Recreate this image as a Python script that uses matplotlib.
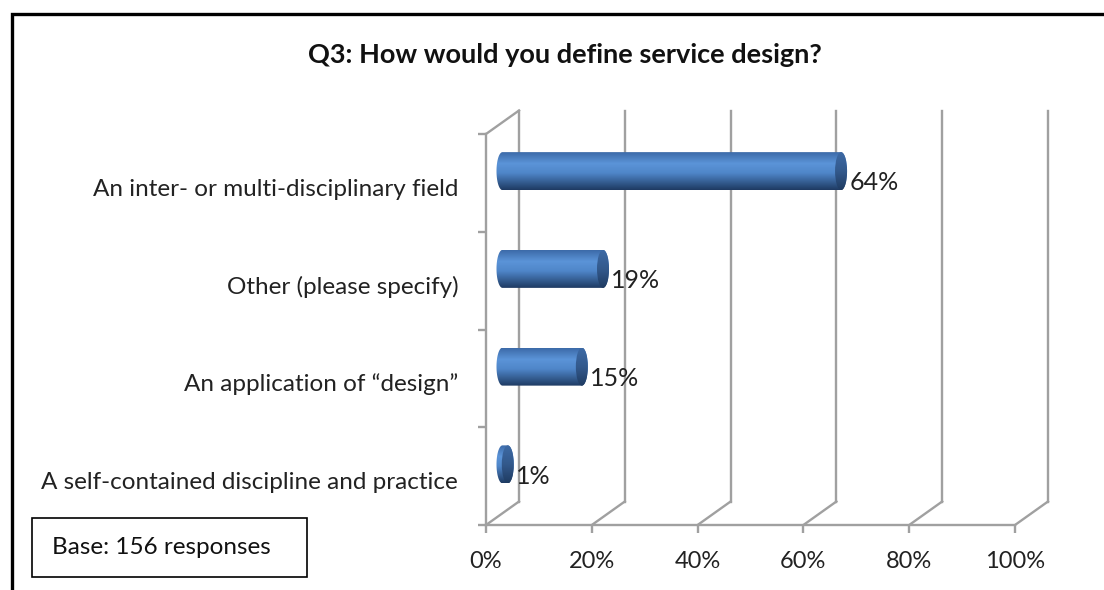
import matplotlib
matplotlib.use("Agg")
import matplotlib.pyplot as plt
import matplotlib.transforms as mtransforms
import numpy as np
from matplotlib.patches import Rectangle, Ellipse, PathPatch
from matplotlib.path import Path
from matplotlib.colors import LinearSegmentedColormap

plt.rcParams['font.family'] = ['Lato', 'DejaVu Sans']

# survey results
categories = ["An inter- or multi-disciplinary field",
              "Other (please specify)",
              "An application of \u201cdesign\u201d",
              "A self-contained discipline and practice"]
values = [64, 19, 15, 1]
xticks = [0, 20, 40, 60, 80, 100]
title = "Q3: How would you define service design?"
base_note = "Base: 156 responses"

W, H = 1104, 590
fig = plt.figure(figsize=(W / 100, H / 100), dpi=100)

# background layer in pixel units for the frame, title and note box
bg = fig.add_axes([0, 0, 1, 1])
bg.set_xlim(0, W)
bg.set_ylim(H, 0)
bg.axis('off')
bg.plot([12, 12, W], [H, 14, 14], color='black', lw=2.4, solid_joinstyle='miter')
bg.add_patch(Rectangle((32, 518), 275, 59, fill=False, ec='black', lw=1.2))
bg.text(52, 548, base_note, fontsize=17.5, va='center', ha='left', color='#111111')
bg.text(565, 55, title, fontsize=19.5, fontweight='bold', ha='center', va='center', color='#111111')

# chart front plane
x0, x1, ybot, ytop = 486, 1015, 525, 134
ax = fig.add_axes([x0 / W, (H - ybot) / H, (x1 - x0) / W, (ybot - ytop) / H])
n = len(categories)
ax.set_xlim(0, 100)
ax.set_ylim(0, n)
ax.patch.set_alpha(0)

px_x = (x1 - x0) / 100.0
px_y = (ybot - ytop) / n
DX = 33 / px_x      # depth offset in data units
DY = 23.5 / px_y

grid_c = '#a0a0a0'
for spine in ['top', 'right']:
    ax.spines[spine].set_visible(False)
for spine in ['bottom', 'left']:
    ax.spines[spine].set_color(grid_c)
    ax.spines[spine].set_linewidth(1.7)

ax.set_xticks(xticks)
ax.set_xticklabels([f"{t}%" for t in xticks], fontsize=17, color='#222222')
ax.set_yticks(range(n + 1))
ax.set_yticklabels([])
ax.tick_params(axis='both', which='major', color=grid_c, width=1.7, length=6, direction='out')
ax.tick_params(axis='x', pad=13)
centers = [n - i - 0.5 for i in range(n)]
ax.set_yticks(centers, minor=True)
ax.set_yticklabels(categories, minor=True, fontsize=17.5, color='#222222')
ax.tick_params(axis='y', which='minor', length=0, pad=20)
shift = mtransforms.ScaledTranslation(0, -3 / 72, fig.dpi_scale_trans)
for lab in ax.get_yticklabels(minor=True):
    lab.set_transform(lab.get_transform() + shift)

# back wall gridlines, floor diagonals and wall edge
for t in xticks:
    ax.plot([t + DX, t + DX], [DY, n + DY], color=grid_c, lw=1.7, clip_on=False)
    ax.plot([t, t + DX], [0, DY], color=grid_c, lw=1.7, clip_on=False)
ax.plot([0, DX], [n, n + DY], color=grid_c, lw=1.7, clip_on=False)

# cylinders
body = LinearSegmentedColormap.from_list('body', [
    (0.0, '#3c6aa8'), (0.3, '#5b94d8'), (0.55, '#4f86c9'), (1.0, '#1e3a62')])
capc = LinearSegmentedColormap.from_list('cap', [
    (0.0, '#3d6aa5'), (0.5, '#33598c'), (1.0, '#1f3b61')])
grad = np.linspace(0, 1, 256).reshape(-1, 1)

bh = 38 / px_y
cw = 12 / px_x
th = np.linspace(np.pi / 2, -np.pi / 2, 40)
for v, yc0 in zip(values, centers):
    xs = DX / 2
    xe = v + DX / 2
    yc = yc0 + DY / 2
    right = np.column_stack([xe + cw / 2 * np.cos(th), yc + bh / 2 * np.sin(th)])
    left = np.column_stack([xs - cw / 2 * np.cos(th), yc - bh / 2 * np.sin(th)])
    verts = np.vstack([right, left, right[:1]])
    outline = PathPatch(Path(verts, closed=True), fc='none', ec='none')
    ax.add_patch(outline)
    im = ax.imshow(grad, cmap=body, aspect='auto', origin='upper',
                   extent=[xs - cw, xe + cw, yc - bh / 2, yc + bh / 2], zorder=3)
    im.set_clip_path(outline)
    cap = Ellipse((xe, yc), cw, bh, fc='none', ec='none')
    ax.add_patch(cap)
    im2 = ax.imshow(grad, cmap=capc, aspect='auto', origin='upper',
                    extent=[xe - cw, xe + cw, yc - bh / 2, yc + bh / 2], zorder=4)
    im2.set_clip_path(cap)
    ax.text(xe + cw / 2 + 0.4, yc - DY / 2, f"{v}%", fontsize=18,
            va='center', ha='left', color='#222222', zorder=5)

ax.set_xlim(0, 100)
ax.set_ylim(0, n)
fig.savefig('out.png', dpi=100)
